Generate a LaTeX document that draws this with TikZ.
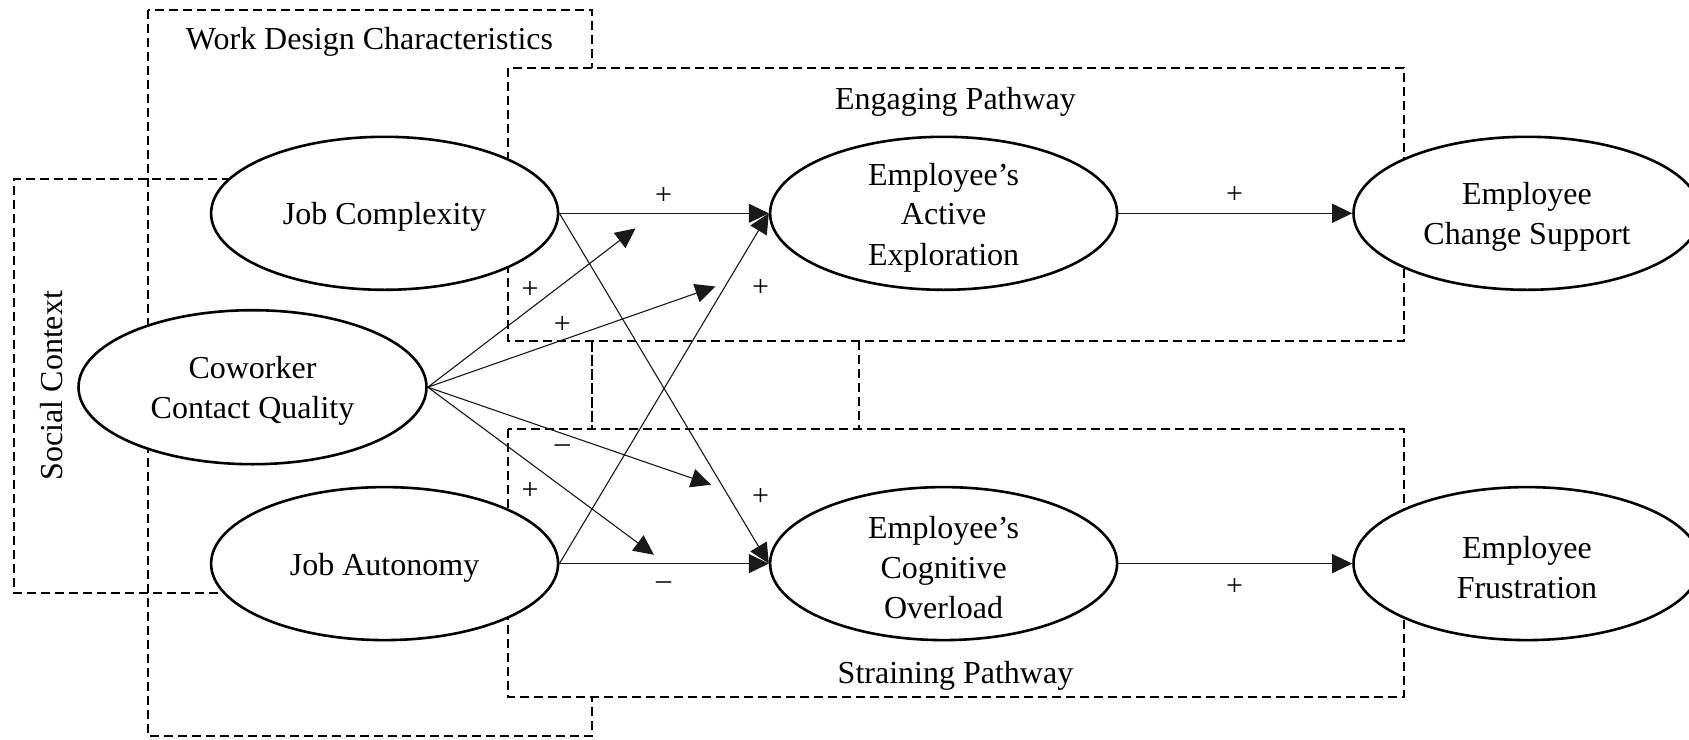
\documentclass[tikz,border=0pt]{standalone}
\usepackage{fontspec}
\setmainfont{Liberation Serif}
\usetikzlibrary{shapes.geometric,arrows.meta}
\begin{document}
\begin{tikzpicture}[x=1pt,y=-1pt,
  grp/.style={draw=black,line width=2pt,dash pattern=on 9pt off 5pt},
  var/.style={ellipse,draw=black,line width=2.6pt,fill=white,minimum width=347pt,minimum height=153pt,inner sep=0pt},
  vtext/.style={align=center,font=\fontsize{32}{40}\selectfont,yshift=-4pt,inner sep=0pt},
  lbl/.style={font=\fontsize{32}{40}\selectfont,yshift=-3.5pt},
  vlbl/.style={font=\fontsize{32}{40}\selectfont,rotate=90},
  sgn/.style={font=\fontsize{30}{36}\selectfont,yshift=-2pt},
  link/.style={draw=black!90,line width=1.1pt,-{Triangle[length=20pt,width=19pt]}}
]
\useasboundingbox (0,0) rectangle (1689,739);
\fill[white] (0,0) rectangle (1689,739);
% group boxes
\draw[grp] (148,10) rectangle (592,736);
\draw[grp] (245,179) -- (14,179) -- (14,593) -- (245,593);
\draw[grp,fill=white] (508,68) rectangle (1404,341);
\draw[grp,fill=white] (508,429) rectangle (1404,697);
\draw[grp] (592,341) -- (592,429);
\draw[grp] (859,341) -- (859,429);
% group labels
\node[lbl] (wdc) at (369.5,38.8) {Work Design Characteristics};
\node[lbl] (eng) at (955.5,98) {Engaging Pathway};
\node[lbl] (str) at (955.5,672) {Straining Pathway};
\node[vlbl] (soc) at (51.5,385.6) {Social Context};
% variables
\node[var,label={[vtext]center:Job Complexity}] (jc) at (384.6,213.3) {};
\node[var,minimum width=348pt,minimum height=154pt,label={[vtext]center:Coworker\\Contact Quality}] (ccq) at (252.5,387.2) {};
\node[var,label={[vtext]center:Job Autonomy}] (ja) at (384.6,563.6) {};
\node[var,label={[vtext]center:Employee’s\\Active\\Exploration}] (ae) at (943.6,213.3) {};
\node[var,label={[vtext]center:Employee’s\\Cognitive\\Overload}] (co) at (943.6,563.6) {};
\node[var,label={[vtext]center:Employee\\Change Support}] (ecs) at (1527,213.3) {};
\node[var,label={[vtext]center:Employee\\Frustration}] (ef) at (1527,563.6) {};
% moderation targets
\coordinate (t1) at (635.5,228.4);
\coordinate (t2) at (715.3,286.5);
\coordinate (t3) at (711,484.7);
\coordinate (t4) at (653.9,554.8);
% paths
\draw[link] (jc.east) -- (ae.west);
\draw[link] (jc.east) -- (co.west);
\draw[link] (ja.east) -- (ae.west);
\draw[link] (ja.east) -- (co.west);
\draw[link] (ccq.east) -- (t1);
\draw[link] (ccq.east) -- (t2);
\draw[link] (ccq.east) -- (t3);
\draw[link] (ccq.east) -- (t4);
\draw[link] (ae.east) -- (ecs.west);
\draw[link] (co.east) -- (ef.west);
% signs
\node[sgn] (s1) at (663.5,193.9) {+};
\node[sgn] (s2) at (530,287.6) {+};
\node[sgn] (s3) at (562.3,323.2) {+};
\node[sgn] (s4) at (760.5,286.5) {+};
\node[sgn] (s5) at (562.3,447) {–};
\node[sgn] (s6) at (530,489) {+};
\node[sgn] (s7) at (760.5,495.5) {+};
\node[sgn] (s8) at (663.5,583.8) {–};
\node[sgn] (s9) at (1234.5,192.8) {+};
\node[sgn] (s10) at (1234.5,585) {+};
\end{tikzpicture}
\end{document}
